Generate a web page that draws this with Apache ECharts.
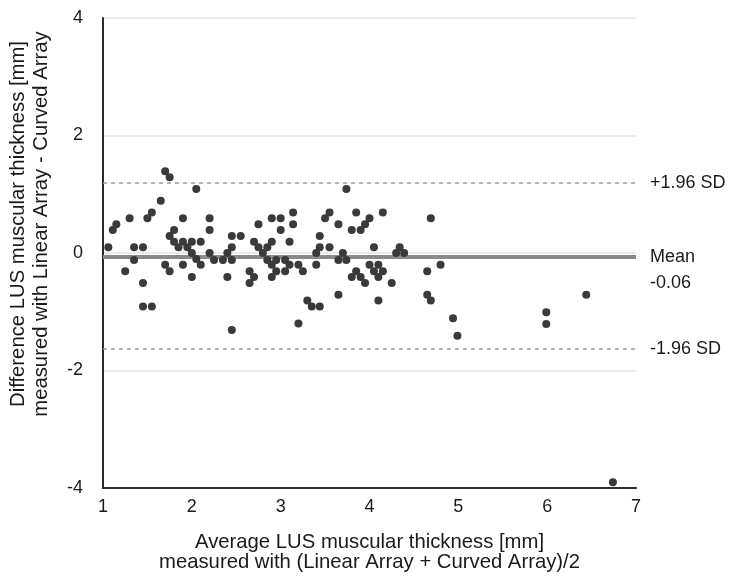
<!DOCTYPE html>
<html>
<head>
<meta charset="utf-8">
<script src="https://cdn.jsdelivr.net/npm/echarts@6/dist/echarts.min.js"></script>
<style>
html,body{margin:0;padding:0;background:#fff;}
#chart{width:729px;height:577px;}
</style>
</head>
<body>
<div id="chart"></div>
<script>
// Average of the two methods (x)
const avgValues = [
 1.70,1.75,2.05,1.65,1.55,1.50,1.30,1.15,1.11,1.06,1.35,1.45,1.35,1.25,1.45,1.45,1.55,
 1.90,1.80,1.75,1.80,1.90,2.00,2.10,1.85,1.95,2.00,2.05,2.10,1.70,1.75,1.90,2.00,
 2.20,2.20,2.20,2.25,2.35,2.40,2.45,2.45,2.55,2.45,2.40,2.45,2.65,2.65,2.70,2.70,
 3.74,3.14,3.14,2.90,3.00,3.00,2.75,2.75,2.85,2.90,2.80,3.10,2.85,2.95,2.90,3.05,3.10,
 2.95,3.05,2.90,3.20,3.25,3.30,3.35,3.44,3.20,3.40,3.40,3.44,3.44,3.50,3.55,3.55,
 3.65,3.65,3.70,3.74,3.65,3.80,3.85,3.90,3.95,4.00,4.15,4.05,3.80,3.85,3.90,3.95,
 4.00,4.05,4.10,4.10,4.15,4.10,4.25,4.30,
 4.34,4.39,4.69,4.80,4.65,4.65,4.69,4.94,4.99,5.99,5.99,6.44,6.74
];
// Difference between the two methods (y)
const diffValues = [
 1.39,1.29,1.09,0.89,0.69,0.59,0.59,0.49,0.39,0.10,0.10,0.10,-0.12,-0.31,-0.51,-0.91,-0.91,
 0.59,0.39,0.29,0.19,0.19,0.19,0.19,0.10,0.10,0.00,-0.10,-0.20,-0.20,-0.31,-0.20,-0.41,
 0.59,0.39,0.00,-0.12,-0.12,0.00,0.10,0.29,0.29,-0.12,-0.41,-1.31,-0.31,-0.51,0.19,-0.41,
 1.09,0.69,0.49,0.59,0.59,0.39,0.49,0.10,0.10,0.19,0.00,0.19,-0.12,-0.12,-0.20,-0.12,-0.20,
 -0.31,-0.31,-0.41,-0.20,-0.31,-0.81,-0.91,-0.91,-1.20,-0.20,0.00,0.10,0.29,0.59,0.69,0.10,
 0.49,-0.12,0.00,-0.12,-0.71,0.39,0.69,0.39,0.49,0.59,0.69,0.10,-0.41,-0.31,-0.41,-0.51,
 -0.20,-0.31,-0.20,-0.41,-0.31,-0.81,-0.51,0.00,
 0.10,0.00,0.59,-0.20,-0.31,-0.71,-0.81,-1.11,-1.41,-1.01,-1.21,-0.71,-3.90
];
const meanDiff = -0.065;
const upperLoA = 1.19;
const lowerLoA = -1.63;
const xTicks = [1,2,3,4,5,6,7];
const yTicks = [-4,-2,0,2,4];

const points = avgValues.map((x,i)=>[x, diffValues[i]]);
const FONT = 'Liberation Sans, Arial, Helvetica, sans-serif';

const chart = echarts.init(document.getElementById('chart'));
chart.setOption({
  animation:false,
  backgroundColor:'#fff',
  textStyle:{fontFamily:FONT},
  grid:{left:103,right:93,top:18,bottom:87,containLabel:false},
  xAxis:{
    type:'value', min:xTicks[0], max:xTicks[xTicks.length-1], interval:1,
    axisLine:{show:true,onZero:false,lineStyle:{color:'#2b2b2b',width:2}},
    axisTick:{show:false},
    splitLine:{show:false},
    axisLabel:{color:'#1a1a1a',fontSize:18,margin:10,fontFamily:FONT},
    name:'Average LUS muscular thickness [mm]\nmeasured with (Linear Array + Curved Array)/2',
    nameLocation:'middle', nameGap:44,
    nameTextStyle:{color:'#1a1a1a',fontSize:20.3,lineHeight:20,fontFamily:FONT}
  },
  yAxis:{
    type:'value', min:yTicks[0], max:yTicks[yTicks.length-1], interval:2,
    axisLine:{show:true,onZero:false,lineStyle:{color:'#2b2b2b',width:2}},
    axisTick:{show:false},
    splitLine:{show:true,lineStyle:{color:'#e4e4e4',width:1.5}},
    axisLabel:{color:'#1a1a1a',fontSize:18,margin:20,fontFamily:FONT}
  },
  graphic:[{
    type:'text',
    rotation:Math.PI/2,
    x:30, y:224,
    style:{
      text:'Difference LUS muscular thickness [mm]\nmeasured with Linear Array - Curved Array',
      fill:'#1a1a1a', font:'20.3px '+FONT, lineHeight:23,
      textAlign:'center', textVerticalAlign:'middle'
    }
  }],
  series:[{
    type:'scatter',
    data:points,
    symbol:'circle',
    symbolSize:8,
    itemStyle:{color:'#3a3a3a',opacity:1},
    z:5,
    markLine:{
      silent:true,
      symbol:['none','none'],
      animation:false,
      label:{position:'end',distance:14,color:'#1a1a1a',fontSize:18,fontFamily:FONT},
      data:[
        {yAxis:upperLoA, lineStyle:{color:'#999',type:[4,4],width:1.5},
          label:{formatter:'+1.96 SD'}},
        {yAxis:meanDiff, lineStyle:{color:'#8a8a8a',type:'solid',width:4},
          label:{formatter:'Mean\n-0.06',lineHeight:26,offset:[0,13]}},
        {yAxis:lowerLoA, lineStyle:{color:'#999',type:[4,4],width:1.5},
          label:{formatter:'-1.96 SD'}}
      ]
    }
  }]
});
</script>
</body>
</html>
